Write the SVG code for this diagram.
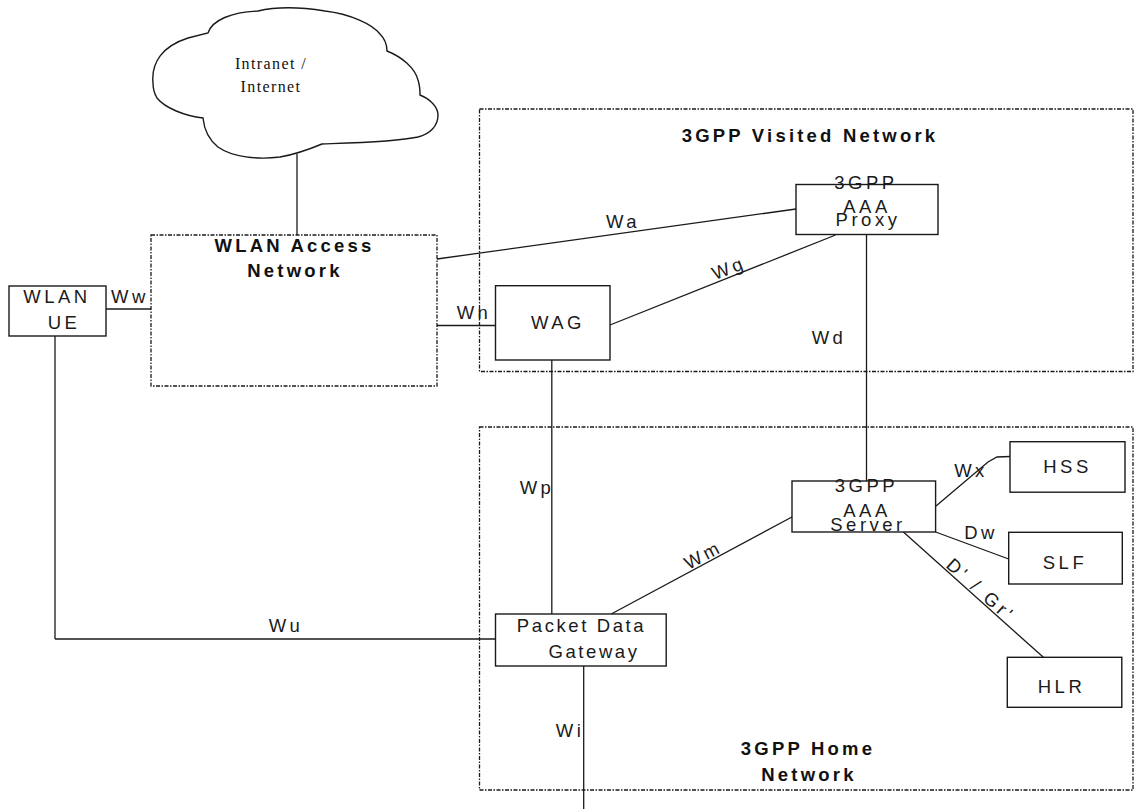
<svg xmlns="http://www.w3.org/2000/svg" width="1135" height="809" viewBox="0 0 1135 809">
<style>
.bg{fill:#ffffff}
.box{fill:#ffffff;stroke:#1a1a1a;stroke-width:1.4}
.zone{fill:none;stroke:#1a1a1a;stroke-width:1.3;stroke-dasharray:4 1.5 1.5 1.5}
.ln{fill:none;stroke:#1a1a1a;stroke-width:1.3}
.t{font-family:"Liberation Sans",Arial,sans-serif;font-size:18.5px;letter-spacing:3.5px;fill:#1a1a1a;text-anchor:middle}
.t2{letter-spacing:2.6px}
.b{font-family:"Liberation Sans",Arial,sans-serif;font-size:18.5px;font-weight:bold;letter-spacing:3.2px;fill:#111;text-anchor:middle}
.s{font-family:"Liberation Serif","Times New Roman",serif;font-size:16px;letter-spacing:1.4px;fill:#111;text-anchor:middle}
</style>
<rect class="bg" x="0" y="0" width="1135" height="809"/>

<g id="visited-network">
<rect class="zone" x="479.5" y="109" width="653.5" height="262.5"/>
<text class="b" x="810" y="141.7">3GPP Visited Network</text>
</g>
<g id="home-network">
<rect class="zone" x="479.5" y="427" width="653.5" height="363"/>
<text class="b" x="808" y="755">3GPP Home</text>
<text class="b" x="809" y="781">Network</text>
</g>

<g id="connectors">
<line class="ln" x1="297" y1="154" x2="297" y2="235"/>
<line class="ln" x1="106" y1="309" x2="151" y2="309"/>
<line class="ln" x1="437" y1="259" x2="796" y2="209"/>
<line class="ln" x1="437" y1="325.5" x2="495.5" y2="325.5"/>
<line class="ln" x1="610" y1="325" x2="835.6" y2="235"/>
<line class="ln" x1="866.5" y1="234.5" x2="866.5" y2="481"/>
<line class="ln" x1="551.8" y1="360" x2="551.8" y2="614"/>
<line class="ln" x1="55" y1="336" x2="55" y2="639"/>
<line class="ln" x1="55" y1="639" x2="495.5" y2="639"/>
<line class="ln" x1="611.2" y1="614" x2="795.7" y2="515"/>
<polyline class="ln" points="936,506 988,462 997,457 1010,456.5"/>
<line class="ln" x1="935.6" y1="532" x2="1008.7" y2="559"/>
<line class="ln" x1="903.4" y1="532" x2="1043.4" y2="657.3"/>
<line class="ln" x1="583.7" y1="666" x2="583.7" y2="809"/>
<text class="t" x="130" y="303.3">Ww</text>
<text class="t" x="623" y="227.7">Wa</text>
<text class="t" x="474" y="318.5">Wn</text>
<text class="t" transform="translate(730.9,277.3) rotate(-21.5)" x="1.5" y="-3">Wg</text>
<text class="t" x="829" y="344.3">Wd</text>
<text class="t" x="537" y="494">Wp</text>
<text class="t" transform="translate(705.7,563) rotate(-28)" x="1.5" y="-2">Wm</text>
<text class="t" x="971" y="476.7">Wx</text>
<text class="t" x="981" y="539">Dw</text>
<text class="t" transform="translate(974,595.2) rotate(41.8)" x="1.5" y="-2">D' / Gr'</text>
<text class="t" x="286" y="632.3">Wu</text>
<text class="t" x="570" y="736.7">Wi</text>
</g>

<g id="internet">
<path class="box" d="M153,83 C151,62 163,46 188,38 L208,33 C212,20 232,12 258,11 C275,7 300,7 325,11 C350,14 372,24 380,34 C386,40 387,46 387,51 C402,57 415,68 418,80 C420,86 420,91 420,95 C430,99 438,107 438,115 C438,126 430,134 418,137 C395,142 350,143 322,144 C310,149 298,154 280,157 C258,160 232,157 218,147 C208,139 204,128 203,118 C185,116 165,108 157,98 C154,93 153,88 153,83 Z"/>
<text class="s" x="271" y="69.3">Intranet /</text>
<text class="s" x="271" y="91.7">Internet</text>
</g>

<g id="wlan-access-network">
<rect class="zone" x="151" y="235" width="286" height="151"/>
<text class="b" x="294.5" y="251.7">WLAN Access</text>
<text class="b" x="295" y="276.7">Network</text>
</g>

<g id="wlan-ue">
<rect class="box" x="9" y="286" width="97" height="50"/>
<text class="t" x="57" y="303.3">WLAN</text>
<text class="t" x="64" y="329">UE</text>
</g>

<g id="wag">
<rect class="box" x="495.5" y="285.7" width="114.5" height="74.3"/>
<text class="t" x="558" y="329">WAG</text>
</g>

<g id="aaa-proxy">
<rect class="box" x="796" y="184.5" width="142" height="50"/>
<text class="t" x="866" y="189.3">3GPP</text>
<text class="t" x="867" y="213.3">AAA</text>
<text class="t" x="868" y="225.5">Proxy</text>
</g>

<g id="aaa-server">
<rect class="box" x="792" y="481" width="143.6" height="51"/>
<text class="t" x="866.5" y="491.7">3GPP</text>
<text class="t" x="867" y="516.7">AAA</text>
<text class="t" x="868" y="530.5">Server</text>
</g>

<g id="hss">
<rect class="box" x="1010" y="441.7" width="115" height="50.5"/>
<text class="t" x="1067.5" y="473.3">HSS</text>
</g>

<g id="slf">
<rect class="box" x="1008.7" y="532.3" width="113.6" height="51.7"/>
<text class="t" x="1065" y="569">SLF</text>
</g>

<g id="hlr">
<rect class="box" x="1007.3" y="657.3" width="114.5" height="50"/>
<text class="t" x="1061.5" y="693.3">HLR</text>
</g>

<g id="pdg">
<rect class="box" x="495.5" y="614" width="170.7" height="52"/>
<text class="t t2" x="581.5" y="631.7">Packet Data</text>
<text class="t t2" x="594" y="658">Gateway</text>
</g>
</svg>
